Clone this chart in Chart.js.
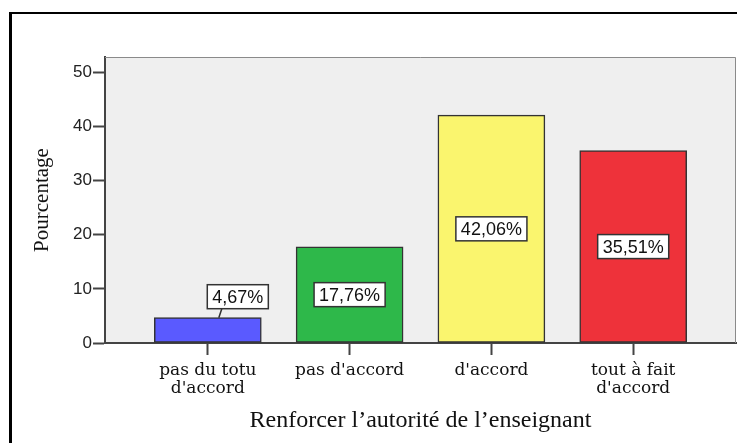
<!DOCTYPE html>
<html>
<head>
<meta charset="utf-8">
<script src="https://cdn.jsdelivr.net/npm/chart.js@4/dist/chart.umd.min.js"></script>
<style>
  body { margin: 0; background: #fff; overflow: hidden; }
  #wrap { position: relative; width: 737px; height: 443px; }
  #frame {
    position: absolute; left: 9px; top: 12px; width: 800px; height: 500px;
    border-left: 3px solid #000; border-top: 2px solid #000;
  }
  canvas { position: absolute; left: 0; top: 0; }
</style>
</head>
<body>
<div id="wrap">
  <div id="frame"></div>
  <canvas id="barchart" width="737" height="443"></canvas>
</div>
<script>
const categories = [
  ["pas du totu", "d'accord"],
  "pas d'accord",
  "d'accord",
  ["tout à fait", "d'accord"],
];
const percentages = [4.67, 17.76, 42.06, 35.51];
const yTicks = [0, 10, 20, 30, 40, 50];

const fmt = (v) => v.toFixed(2).replace(".", ",") + "%";

// grey plot background + thin frame on top/right
const plotBackground = {
  id: "plotBackground",
  beforeDraw(chart) {
    const { ctx, chartArea: a } = chart;
    ctx.save();
    ctx.fillStyle = "#efefef";
    ctx.fillRect(a.left, a.top, a.right - a.left, a.bottom - a.top);
    ctx.restore();
  },
  afterDraw(chart) {
    const { ctx, chartArea: a } = chart;
    ctx.save();
    ctx.strokeStyle = "#8a8a8a";
    ctx.lineWidth = 1;
    ctx.beginPath();
    ctx.moveTo(a.left, a.top + 0.5);
    ctx.lineTo(a.right - 0.5, a.top + 0.5);
    ctx.lineTo(a.right - 0.5, a.bottom);
    ctx.stroke();
    ctx.restore();
  },
};

// boxed percentage labels, like SPSS
const boxLabels = {
  id: "boxLabels",
  afterDatasetsDraw(chart) {
    const { ctx } = chart;
    const meta = chart.getDatasetMeta(0);
    ctx.save();
    ctx.font = "18px 'Liberation Sans', Arial, sans-serif";
    ctx.textAlign = "center";
    ctx.textBaseline = "middle";
    meta.data.forEach((bar, i) => {
      const text = fmt(percentages[i]);
      const w = ctx.measureText(text).width + 10;
      const h = 24;
      let cx = bar.x;
      let cy = (bar.y + bar.base) / 2;
      const small = bar.base - bar.y < h + 12;
      if (small) {
        cx = bar.x + 30;
        cy = bar.y - 9 - h / 2;
        ctx.strokeStyle = "#333";
        ctx.lineWidth = 1.5;
        ctx.beginPath();
        ctx.moveTo(bar.x + 14, bar.y - 9);
        ctx.lineTo(bar.x + 11, bar.y);
        ctx.stroke();
      }
      ctx.fillStyle = "#fff";
      ctx.fillRect(cx - w / 2, cy - h / 2, w, h);
      ctx.strokeStyle = "#333";
      ctx.lineWidth = 1.5;
      ctx.strokeRect(cx - w / 2, cy - h / 2, w, h);
      ctx.fillStyle = "#111";
      ctx.fillText(text, cx, cy + 1);
    });
    ctx.restore();
  },
};

const ctx = document.getElementById("barchart").getContext("2d");
new Chart(ctx, {
  type: "bar",
  data: {
    datasets: [
      {
        label: "Pourcentage",
        data: percentages.map((v, i) => ({ x: i + 1, y: v })),
        backgroundColor: ["#5a5aff", "#2eb84a", "#faf56e", "#ee323a"],
        borderColor: "#333",
        borderWidth: 1.5,
        borderSkipped: false,
        barThickness: 107,
      },
    ],
  },
  options: {
    responsive: false,
    animation: false,
    layout: { padding: { top: 57, right: 1, left: 0, bottom: 0 } },
    plugins: { legend: { display: false }, tooltip: { enabled: false } },
    scales: {
      x: {
        type: "linear",
        min: 0.275,
        max: 4.725,
        offset: false,
        afterBuildTicks: (s) => {
          s.ticks = categories.map((_, i) => ({ value: i + 1 }));
        },
        afterFit: (s) => {
          s.height = 100;
        },
        grid: {
          offset: false,
          drawOnChartArea: false,
          drawTicks: true,
          tickLength: 12,
          tickColor: "#444",
          tickWidth: 2,
        },
        border: { color: "#444", width: 2 },
        ticks: {
          autoSkip: false,
          maxRotation: 0,
          padding: 7,
          color: "#111",
          font: { family: "'DejaVu Serif', serif", size: 17, lineHeight: 1.05 },
          callback: (v) => categories[v - 1],
        },
        title: {
          display: true,
          text: "Renforcer l’autorité de l’enseignant",
          color: "#111",
          font: { family: "'Liberation Serif', 'Times New Roman', serif", size: 24 },
          padding: { top: 0, bottom: 8 },
        },
      },
      y: {
        min: 0,
        max: 52.8,
        afterBuildTicks: (s) => {
          s.ticks = yTicks.map((v) => ({ value: v }));
        },
        afterFit: (s) => {
          s.width = 105;
        },
        grid: {
          drawOnChartArea: false,
          drawTicks: true,
          tickLength: 12,
          tickColor: "#444",
          tickWidth: 2,
        },
        border: { color: "#444", width: 2 },
        ticks: {
          padding: 1,
          color: "#222",
          font: { family: "'Liberation Sans', Arial, sans-serif", size: 17 },
        },
        title: {
          display: true,
          text: "Pourcentage",
          color: "#111",
          font: { family: "'Liberation Serif', 'Times New Roman', serif", size: 21 },
          padding: { top: 30, bottom: 0 },
        },
      },
    },
  },
  plugins: [plotBackground, boxLabels],
});
</script>
</body>
</html>
